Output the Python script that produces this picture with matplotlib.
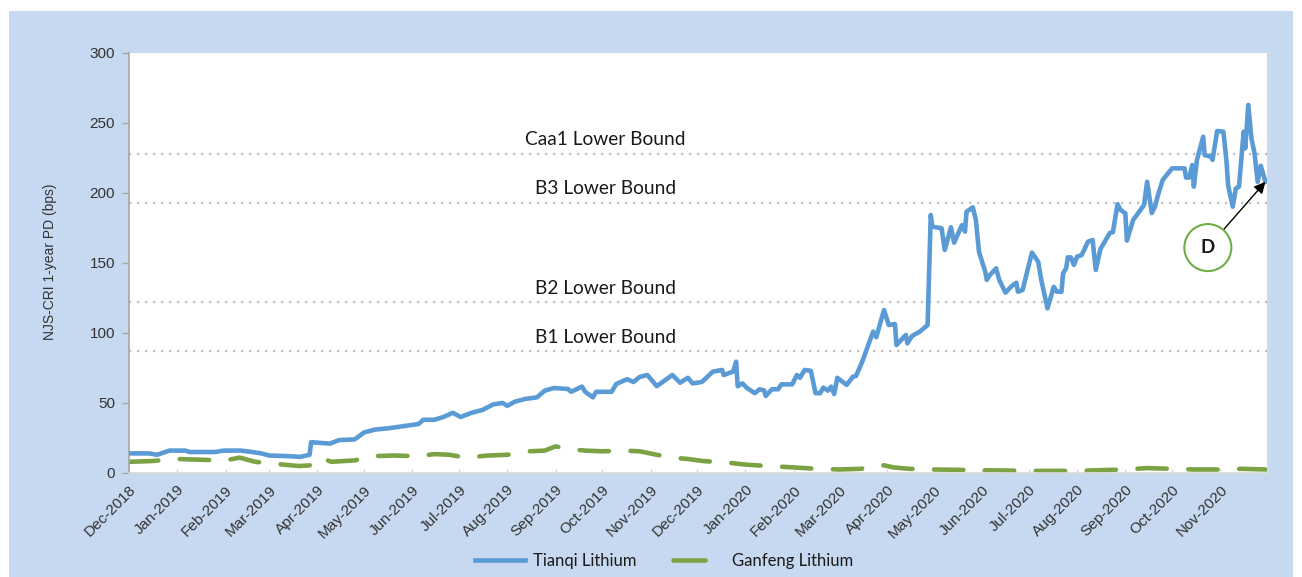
import matplotlib
matplotlib.use("Agg")
import matplotlib.pyplot as plt
import pandas as pd
from matplotlib.patches import Rectangle

# Tianqi Lithium
tianqi_dates = [
    "2018-12-01", "2018-12-14", "2018-12-19", "2018-12-27", "2019-01-06", "2019-01-09",
    "2019-01-25", "2019-01-31", "2019-02-11", "2019-02-18", "2019-02-24", "2019-03-01",
    "2019-03-14", "2019-03-21", "2019-03-27", "2019-03-28", "2019-04-09", "2019-04-15",
    "2019-04-25", "2019-05-01", "2019-05-08", "2019-05-17", "2019-05-30", "2019-06-05",
    "2019-06-08", "2019-06-15", "2019-06-21", "2019-06-27", "2019-07-02", "2019-07-09",
    "2019-07-16", "2019-07-23", "2019-07-29", "2019-08-01", "2019-08-06", "2019-08-13",
    "2019-08-20", "2019-08-25", "2019-08-31", "2019-09-09", "2019-09-11", "2019-09-18",
    "2019-09-20", "2019-09-25", "2019-09-27", "2019-10-07", "2019-10-10", "2019-10-17",
    "2019-10-21", "2019-10-25", "2019-10-30", "2019-11-05", "2019-11-15", "2019-11-20",
    "2019-11-25", "2019-11-28", "2019-12-04", "2019-12-11", "2019-12-17", "2019-12-18",
    "2019-12-24", "2019-12-26", "2019-12-27", "2019-12-30", "2020-01-02", "2020-01-07",
    "2020-01-10", "2020-01-13", "2020-01-14", "2020-01-18", "2020-01-22", "2020-01-24",
    "2020-01-31", "2020-02-03", "2020-02-05", "2020-02-08", "2020-02-12", "2020-02-15",
    "2020-02-18", "2020-02-20", "2020-02-23", "2020-02-25", "2020-02-27", "2020-02-29",
    "2020-03-06", "2020-03-10", "2020-03-12", "2020-03-16", "2020-03-23", "2020-03-25",
    "2020-03-30", "2020-04-02", "2020-04-06", "2020-04-07", "2020-04-13", "2020-04-14",
    "2020-04-17", "2020-04-22", "2020-04-27", "2020-04-29", "2020-04-30", "2020-05-06",
    "2020-05-08", "2020-05-12", "2020-05-14", "2020-05-19", "2020-05-21", "2020-05-22",
    "2020-05-26", "2020-05-28", "2020-05-30", "2020-06-03", "2020-06-04", "2020-06-06",
    "2020-06-10", "2020-06-12", "2020-06-16", "2020-06-20", "2020-06-23", "2020-06-24",
    "2020-06-27", "2020-07-03", "2020-07-07", "2020-07-09", "2020-07-13", "2020-07-17",
    "2020-07-19", "2020-07-22", "2020-07-23", "2020-07-25", "2020-07-26", "2020-07-28",
    "2020-07-30", "2020-08-01", "2020-08-04", "2020-08-08", "2020-08-11", "2020-08-13",
    "2020-08-16", "2020-08-22", "2020-08-24", "2020-08-27", "2020-08-29", "2020-09-01",
    "2020-09-02", "2020-09-06", "2020-09-13", "2020-09-15", "2020-09-18", "2020-09-20",
    "2020-09-22", "2020-09-25", "2020-09-29", "2020-10-01", "2020-10-09", "2020-10-10",
    "2020-10-12", "2020-10-14", "2020-10-15", "2020-10-17", "2020-10-21", "2020-10-22",
    "2020-10-26", "2020-10-27", "2020-10-30", "2020-11-03", "2020-11-05", "2020-11-06",
    "2020-11-09", "2020-11-11", "2020-11-13", "2020-11-16", "2020-11-17", "2020-11-19",
    "2020-11-21", "2020-11-23", "2020-11-25", "2020-11-27", "2020-11-30",
]
tianqi = [
    14, 14, 13, 16, 16, 15,
    15, 16, 16, 15, 14, 12.5,
    12, 11.5, 13, 22, 21, 23.5,
    24, 29, 31, 32, 34, 35,
    38, 38, 40, 43, 40, 43,
    45, 49, 50, 48, 51, 53,
    54, 58.8, 60.7, 60, 58, 61.7,
    58, 54, 58, 58, 63.6, 67,
    65, 68.6, 70, 62, 70, 64.5,
    68, 64, 65, 72.4, 73.6, 70,
    72.4, 79.5, 62, 64, 60.7, 57,
    59.8, 59, 55, 59.8, 59.8, 63.3,
    63.3, 70, 68, 73.6, 73, 57,
    57, 61, 58.8, 61.7, 56.4, 68,
    62.9, 68.8, 69.3, 79.5, 101, 97,
    116.4, 105.7, 106.4, 91.4, 98.6, 92.6,
    97.9, 101, 105.7, 184.3, 176, 174.8,
    159.3, 175.5, 164.5, 177, 172.4, 186.6,
    189.8, 180.7, 158, 143.8, 137.9, 141.4,
    146.2, 137.9, 128.8, 133.6, 135.9, 129.5,
    130.7, 157.4, 150.9, 137.9, 117.6, 133,
    129.5, 129.5, 142.6, 146.2, 154, 154,
    148.6, 154.5, 155.7, 165.2, 166.4, 145,
    160, 171.4, 172, 192, 187.9, 185.5,
    166, 180.7, 191.4, 208, 185.7, 190.2,
    198.6, 209.3, 214.8, 217.6, 217.6, 211,
    211, 220, 204.5, 223.6, 240.2, 227,
    226, 223.6, 244.3, 243.8, 222.4, 205.7,
    190.2, 203.3, 204.5, 243.8, 231.9, 262.9,
    239, 228.3, 208, 219.5, 208,
]

# Ganfeng Lithium
ganfeng_dates = [
    "2018-12-01", "2018-12-15", "2019-01-01", "2019-01-15", "2019-02-01", "2019-02-10",
    "2019-02-20", "2019-03-01", "2019-03-10", "2019-03-20", "2019-03-28", "2019-04-03",
    "2019-04-10", "2019-04-25", "2019-05-05", "2019-05-20", "2019-06-05", "2019-06-15",
    "2019-06-25", "2019-07-05", "2019-07-20", "2019-08-01", "2019-08-15", "2019-08-25",
    "2019-09-01", "2019-09-10", "2019-09-20", "2019-10-01", "2019-10-15", "2019-10-25",
    "2019-11-05", "2019-11-15", "2019-11-25", "2019-12-05", "2019-12-20", "2020-01-01",
    "2020-01-15", "2020-02-01", "2020-02-15", "2020-03-01", "2020-03-15", "2020-03-30",
    "2020-04-05", "2020-04-15", "2020-05-01", "2020-06-01", "2020-07-01", "2020-08-01",
    "2020-08-15", "2020-09-01", "2020-09-15", "2020-10-01", "2020-10-15", "2020-11-01",
    "2020-11-15", "2020-11-30",
]
ganfeng = [
    8, 8.5, 10, 9.5, 9, 11,
    8, 7, 6, 5, 5.5, 11,
    8, 9, 12, 12.5, 12, 13.5,
    13, 11, 12.5, 13, 15.5, 16,
    19, 17, 16, 15.5, 16, 15.5,
    13, 11, 10, 8.5, 7.5, 6,
    5, 4, 3, 2.5, 3, 5.5,
    4, 3, 2.5, 2, 1.5, 1.5,
    2, 2.5, 3.5, 3, 2.5, 2.5,
    3, 2.5,
]

bound_names = ["Caa1 Lower Bound", "B3 Lower Bound", "B2 Lower Bound", "B1 Lower Bound"]
bound_values = [228, 193, 122, 87]

blue = "#5b9bd5"
green = "#7ba344"
txt = "#333333"

t_dates = pd.to_datetime(tianqi_dates)
g_dates = pd.to_datetime(ganfeng_dates)

fig = plt.figure(figsize=(13.02, 5.77), dpi=100)
fig.patch.set_facecolor("white")
fig.add_artist(Rectangle((9 / 1302, 0), 1284 / 1302, 566 / 577, transform=fig.transFigure,
                         facecolor="#c6d9f0", edgecolor="none", zorder=-10))

ax = fig.add_axes([129 / 1302, 104 / 577, 1138 / 1302, 420 / 577])
ax.set_facecolor("white")

for v in bound_values:
    ax.axhline(v, color="#bfbfbf", lw=1.6, linestyle=(0, (1, 2.6)), dash_capstyle="butt", zorder=1)

lbl_x = pd.Timestamp("2019-10-03")
for name, v in zip(bound_names, bound_values):
    ax.text(lbl_x, v + 10, name, ha="center", va="center", fontsize=13.8, family="Lato", color="#1a1a1a")

ax.plot(t_dates, tianqi, color=blue, lw=3.3, label="Tianqi Lithium", zorder=3,
        solid_joinstyle="round")
ax.plot(g_dates, ganfeng, color=green, lw=3.3, label="Ganfeng Lithium", zorder=2,
        linestyle=(0, (6.4, 4.7)), dash_capstyle="round")

ax.set_ylim(0, 300)
ax.set_yticks([0, 50, 100, 150, 200, 250, 300])
ax.set_xlim(pd.Timestamp("2018-12-01"), pd.Timestamp("2020-12-01"))
ticks = pd.date_range("2018-12-01", "2020-12-01", freq="MS")
ax.set_xticks(ticks)
ax.set_xticklabels([d.strftime("%b-%Y") for d in ticks[:-1]] + [""],
                   rotation=45, ha="right", rotation_mode="anchor")

for s in ["top", "right"]:
    ax.spines[s].set_visible(False)
ax.spines["left"].set_color("#a6a6a6")
ax.spines["left"].set_linewidth(1.2)
ax.spines["bottom"].set_color("#d9d9d9")
ax.spines["bottom"].set_linewidth(1.2)
ax.tick_params(axis="y", colors="#a6a6a6", labelcolor=txt, labelsize=11, length=5, width=1, pad=5)
ax.tick_params(axis="x", colors="#d9d9d9", labelcolor=txt, labelsize=11, length=6, width=1,
               direction="inout", pad=4)
for lab in ax.get_xticklabels() + ax.get_yticklabels():
    lab.set_family("Liberation Sans")

fig.text(50 / 1302, 1 - 262 / 577, "NJS-CRI 1-year PD (bps)", rotation=90, ha="center", va="center",
         fontsize=10, family="Liberation Sans", color=txt)

ax.annotate("D", xy=(t_dates[-1], tianqi[-1]), xytext=(pd.Timestamp("2020-10-24"), 161),
            ha="center", va="center", fontsize=13.5, fontweight="bold", family="Lato", color="#1a1a1a",
            bbox=dict(boxstyle="circle,pad=0.8", fc="white", ec="#70ad47", lw=1.5),
            arrowprops=dict(arrowstyle="-|>", color="black", lw=1, mutation_scale=17,
                            shrinkA=0, shrinkB=0),
            zorder=5)

leg = fig.legend(loc="center", bbox_to_anchor=(664 / 1302, 1 - 561 / 577), ncol=2, frameon=False,
                 prop={"family": "Lato", "size": 12}, handlelength=3.0, columnspacing=2.2,
                 handletextpad=0.5)
for t in leg.get_texts():
    t.set_color("#1a1a1a")
# single dash in the Ganfeng legend sample, like the original
leg.get_lines()[1].set_linestyle((0, (7.0, 20)))

fig.savefig("out.png", dpi=100)
